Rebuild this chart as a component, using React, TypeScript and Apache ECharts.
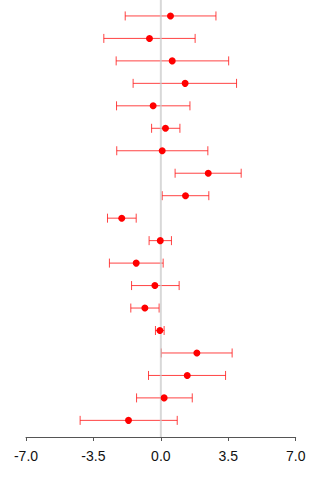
import React, { useEffect, useRef } from "react";
import * as echarts from "echarts";

// Point estimates with lower / upper interval bounds, top row first
const estimates = [0.5, -0.59, 0.59, 1.26, -0.4, 0.24, 0.07, 2.46, 1.28, -2.03, -0.03, -1.28, -0.31, -0.83, -0.05, 1.87, 1.37, 0.17, -1.68];
const lowerBounds = [-1.85, -2.96, -2.32, -1.44, -2.3, -0.48, -2.29, 0.74, 0.07, -2.77, -0.61, -2.67, -1.52, -1.56, -0.28, 0.02, -0.64, -1.26, -4.19];
const upperBounds = [2.86, 1.78, 3.52, 3.93, 1.51, 0.99, 2.44, 4.17, 2.49, -1.28, 0.55, 0.12, 0.95, -0.09, 0.17, 3.7, 3.36, 1.63, 0.85];

// X axis range and tick spacing
const xMin = -7;
const xMax = 7;
const xStep = 3.5;

// Vertical padding around the rows (in row units)
const yMin = 0.29;
const yMax = 19.74;

const barColor = "rgba(255, 20, 20, 0.8)";
const dotColor = "#ff0000";

export default function App() {
  const ref = useRef<HTMLDivElement>(null);

  useEffect(() => {
    if (!ref.current) return;
    const chart = echarts.init(ref.current, null, { renderer: "svg" });

    const rows = estimates.map((_, i) => i + 1);

    chart.setOption({
      animation: false,
      grid: { left: 26, right: 24.3, top: 0, bottom: 43, containLabel: false },
      xAxis: {
        type: "value",
        min: xMin,
        max: xMax,
        interval: xStep,
        axisLine: { show: true, lineStyle: { color: "#555", width: 1 } },
        axisTick: { show: true, length: 4, lineStyle: { color: "#555", width: 1 } },
        splitLine: { show: false },
        axisLabel: {
          color: "#111",
          fontSize: 14,
          fontFamily: "Liberation Sans, Arial, sans-serif",
          margin: 12,
          formatter: (v: number) => v.toFixed(1),
        },
      },
      yAxis: {
        type: "value",
        min: yMin,
        max: yMax,
        inverse: true,
        show: false,
      },
      series: [
        {
          type: "custom",
          z: 2,
          data: rows.map((r, i) => [r, lowerBounds[i], upperBounds[i]]),
          encode: { x: [1, 2], y: 0 },
          renderItem: (_params: any, api: any) => {
            const lo = api.coord([api.value(1), api.value(0)]);
            const hi = api.coord([api.value(2), api.value(0)]);
            const h = 4.5;
            const style = { stroke: barColor, lineWidth: 1, fill: "none" };
            return {
              type: "group",
              children: [
                { type: "line", shape: { x1: lo[0], y1: lo[1], x2: hi[0], y2: hi[1] }, style },
                { type: "line", shape: { x1: lo[0], y1: lo[1] - h, x2: lo[0], y2: lo[1] + h }, style },
                { type: "line", shape: { x1: hi[0], y1: hi[1] - h, x2: hi[0], y2: hi[1] + h }, style },
              ],
            };
          },
        },
        {
          type: "line",
          z: 3,
          silent: true,
          showSymbol: false,
          data: [
            [0, yMin],
            [0, yMax],
          ],
          lineStyle: { color: "rgba(200, 200, 200, 0.7)", width: 2 },
        },
        {
          type: "scatter",
          z: 4,
          symbol: "circle",
          symbolSize: 7,
          itemStyle: { color: dotColor, opacity: 1 },
          data: rows.map((r, i) => [estimates[i], r]),
        },
      ],
    });

    return () => chart.dispose();
  }, []);

  return (
    <div
      ref={ref}
      style={{ position: "fixed", left: 0, top: 0, width: 320, height: 480, background: "#fff" }}
    />
  );
}
